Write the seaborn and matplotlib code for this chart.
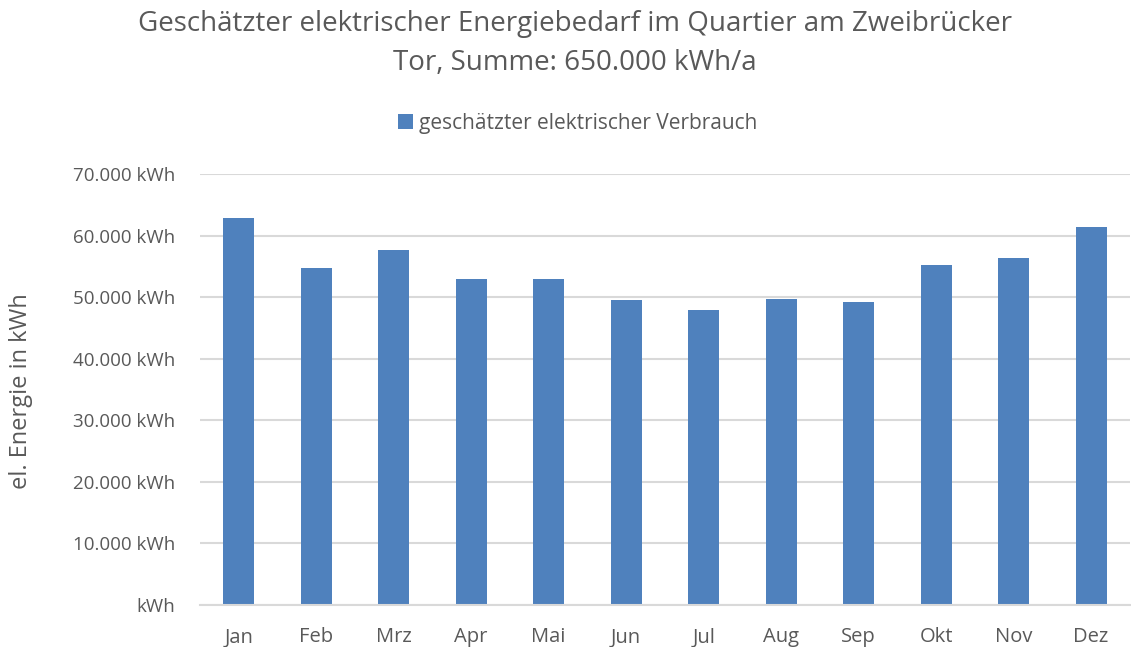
import matplotlib
matplotlib.use("Agg")
import matplotlib.pyplot as plt
from matplotlib.ticker import FuncFormatter, MultipleLocator
import seaborn as sns
import pandas as pd

months = ["Jan", "Feb", "Mrz", "Apr", "Mai", "Jun", "Jul", "Aug", "Sep", "Okt", "Nov", "Dez"]
consumption_kwh = [62800, 54700, 57600, 53000, 52900, 49500, 48000, 49700, 49300, 55200, 56300, 61400]
series_name = "geschätzter elektrischer Verbrauch"
title = "Geschätzter elektrischer Energiebedarf im Quartier am Zweibrücker\nTor, Summe: 650.000 kWh/a"
y_label = "el. Energie in kWh"

df = pd.DataFrame({"Monat": months, "Energie": consumption_kwh, "Serie": series_name})

sns.set_theme(style="white")
plt.rcParams["font.family"] = ["Open Sans", "DejaVu Sans"]
text_color = "#595959"
bar_color = "#4F81BD"

fig = plt.figure(figsize=(11.31, 6.47), dpi=100)
ax = fig.add_axes([0.1768, 0.0649, 0.8222, 0.666])

sns.barplot(data=df, x="Monat", y="Energie", hue="Serie", palette=[bar_color],
            width=0.4, ax=ax, saturation=1, edgecolor="none")

ax.set_ylim(0, 70000)
ax.yaxis.set_major_locator(MultipleLocator(10000))


def fmt(v, _):
    if v == 0:
        return "kWh"
    return f"{int(v):,} kWh".replace(",", ".")


ax.yaxis.set_major_formatter(FuncFormatter(fmt))
ax.grid(axis="y", color="#D9D9D9", linewidth=1.5)
ax.set_axisbelow(True)
for s in ["top", "right", "left"]:
    ax.spines[s].set_visible(False)
ax.spines["bottom"].set_color("#D9D9D9")
ax.spines["bottom"].set_linewidth(1.5)
ax.tick_params(axis="y", length=0, labelsize=13.5, colors=text_color, pad=18)
ax.tick_params(axis="x", length=0, labelsize=14.5, colors=text_color, pad=16)
ax.set_xlabel("")
ax.set_ylabel(y_label, fontsize=17, color=text_color)
ax.yaxis.set_label_coords(-0.18, 0.497)

ax.get_legend().remove()
handles, labels = ax.get_legend_handles_labels()
leg = fig.legend(handles, labels, loc="center", bbox_to_anchor=(0.511, 0.809), frameon=False,
                 fontsize=15, handlelength=0.7, handleheight=0.7, handletextpad=0.3)
for t in leg.get_texts():
    t.set_color(text_color)

fig.text(0.508, 0.985, title, ha="center", va="top", fontsize=20,
         color=text_color, linespacing=1.55)

fig.savefig("out.png", dpi=100, facecolor="white")
